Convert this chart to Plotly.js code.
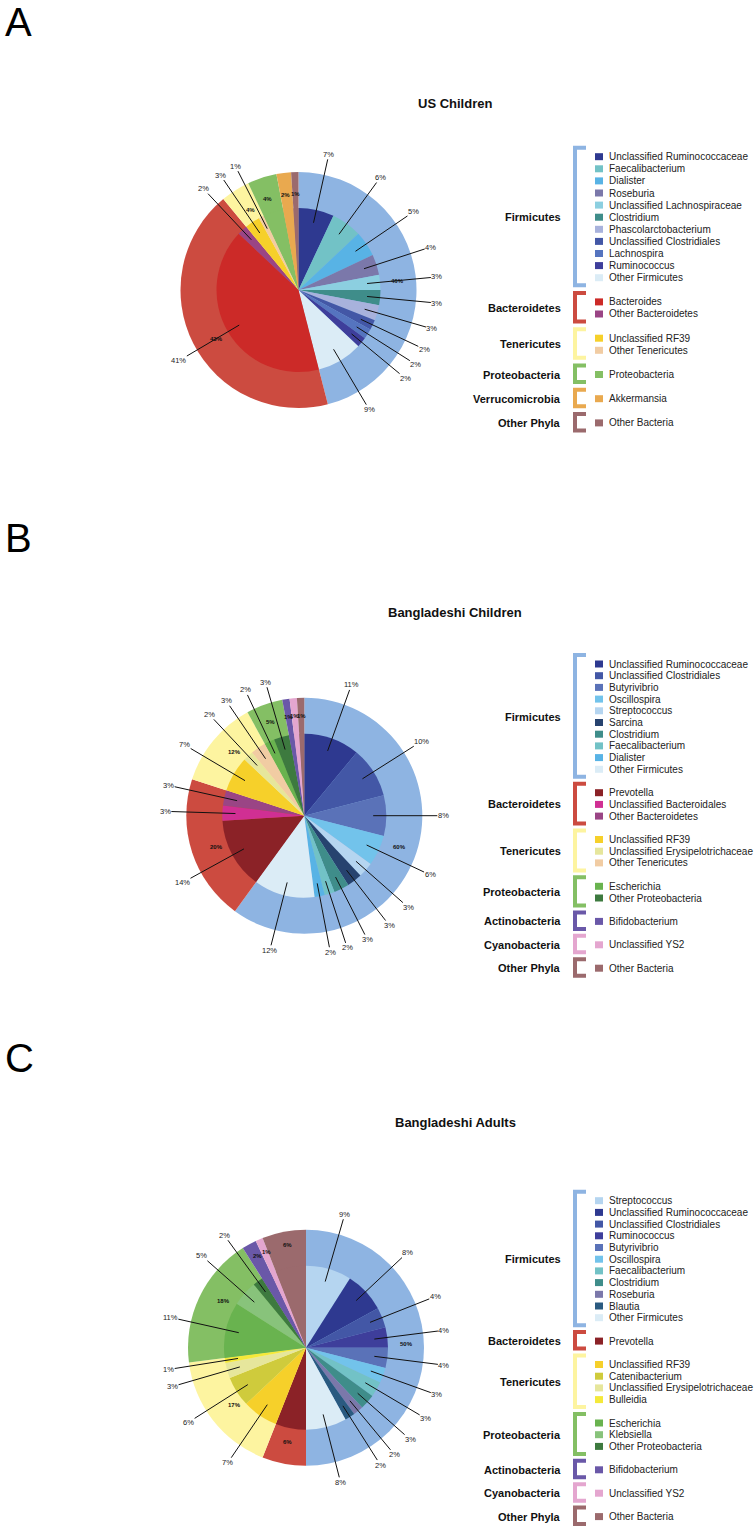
<!DOCTYPE html>
<html><head><meta charset="utf-8">
<script src="https://cdn.plot.ly/plotly-3.0.1.min.js"></script>
<style>html,body{margin:0;padding:0;background:#fff}#chart{width:755px;height:1530px}</style>
</head><body><div id="chart"></div>
<script>
// ---------- DATA ----------
// Panel A: US Children
const usGenera = ['Unclassified Ruminococcaceae','Faecalibacterium','Dialister','Roseburia','Unclassified Lachnospiraceae','Clostridium','Phascolarctobacterium','Unclassified Clostridiales','Lachnospira','Ruminococcus','Other Firmicutes','Bacteroides','Other Bacteroidetes','Unclassified RF39','Other Tenericutes','Proteobacteria','Akkermansia','Other Bacteria'];
const usGenusPct = [7,6,5,4,3,3,3,2,2,2,9,41,2,3,1,4,2,1];
const usGenusPhylum = ['Firmicutes','Firmicutes','Firmicutes','Firmicutes','Firmicutes','Firmicutes','Firmicutes','Firmicutes','Firmicutes','Firmicutes','Firmicutes','Bacteroidetes','Bacteroidetes','Tenericutes','Tenericutes','Proteobacteria','Verrucomicrobia','Other Phyla'];
const usPhyla = ['Firmicutes','Bacteroidetes','Tenericutes','Proteobacteria','Verrucomicrobia','Other Phyla'];
const usPhylumPct = [46,43,4,4,2,1];

// Panel B: Bangladeshi Children
const bcGenera = ['Unclassified Ruminococcaceae','Unclassified Clostridiales','Butyrivibrio','Oscillospira','Streptococcus','Sarcina','Clostridium','Faecalibacterium','Dialister','Other Firmicutes','Prevotella','Unclassified Bacteroidales','Other Bacteroidetes','Unclassified RF39','Unclassified Erysipelotrichaceae','Other Tenericutes','Escherichia','Other Proteobacteria','Bifidobacterium','Unclassified YS2','Other Bacteria'];
const bcGenusPct = [11,10,8,6,3,3,3,2,2,12,14,3,3,7,2,3,2,3,1,1,1];
const bcGenusPhylum = ['Firmicutes','Firmicutes','Firmicutes','Firmicutes','Firmicutes','Firmicutes','Firmicutes','Firmicutes','Firmicutes','Firmicutes','Bacteroidetes','Bacteroidetes','Bacteroidetes','Tenericutes','Tenericutes','Tenericutes','Proteobacteria','Proteobacteria','Actinobacteria','Cyanobacteria','Other Phyla'];
const bcPhyla = ['Firmicutes','Bacteroidetes','Tenericutes','Proteobacteria','Actinobacteria','Cyanobacteria','Other Phyla'];
const bcPhylumPct = [60,20,12,5,1,1,1];

// Panel C: Bangladeshi Adults
const baGenera = ['Streptococcus','Unclassified Ruminococcaceae','Unclassified Clostridiales','Ruminococcus','Butyrivibrio','Oscillospira','Faecalibacterium','Clostridium','Roseburia','Blautia','Other Firmicutes','Prevotella','Unclassified RF39','Catenibacterium','Unclassified Erysipelotrichaceae','Bulleidia','Escherichia','Klebsiella','Other Proteobacteria','Bifidobacterium','Unclassified YS2','Other Bacteria'];
const baGenusPct = [9,8,4,4,4,3,3,3,2,2,8,6,7,6,3,1,11,5,2,2,1,6];
const baGenusPhylum = ['Firmicutes','Firmicutes','Firmicutes','Firmicutes','Firmicutes','Firmicutes','Firmicutes','Firmicutes','Firmicutes','Firmicutes','Firmicutes','Bacteroidetes','Tenericutes','Tenericutes','Tenericutes','Tenericutes','Proteobacteria','Proteobacteria','Proteobacteria','Actinobacteria','Cyanobacteria','Other Phyla'];
const baPhyla = ['Firmicutes','Bacteroidetes','Tenericutes','Proteobacteria','Actinobacteria','Cyanobacteria','Other Phyla'];
const baPhylumPct = [50,6,17,18,2,1,6];

// ---------- STYLES ----------
const phylumColors = {
  'Firmicutes':'#8eb4e2','Bacteroidetes':'#cc4b40','Tenericutes':'#fdf4a0','Proteobacteria':'#84bf64',
  'Verrucomicrobia':'#e9a94f','Actinobacteria':'#6a58a8','Cyanobacteria':'#e4a6cf','Other Phyla':'#9b6a6d'
};
const genusColors = {
  'Unclassified Ruminococcaceae':'#2e3990','Faecalibacterium':'#72c2c6','Dialister':'#58b3e5','Roseburia':'#7b78aa',
  'Unclassified Lachnospiraceae':'#8ccfe0','Clostridium':'#3f8d8a','Phascolarctobacterium':'#a8b2dc',
  'Unclassified Clostridiales':'#4357a6','Lachnospira':'#5574bf','Ruminococcus':'#3e3e9b','Other Firmicutes':'#dbecf6',
  'Butyrivibrio':'#5a72b8','Oscillospira':'#72c3eb','Streptococcus':'#b5d5f0','Sarcina':'#27436f','Blautia':'#2a5a80',
  'Bacteroides':'#cc2a28','Other Bacteroidetes':'#9a4585','Prevotella':'#8b2227','Unclassified Bacteroidales':'#d02f93',
  'Unclassified RF39':'#f6d02a','Other Tenericutes':'#f1cca3','Unclassified Erysipelotrichaceae':'#e6e69c',
  'Catenibacterium':'#cfcb3c','Bulleidia':'#f4e93a',
  'Proteobacteria':'#84bf64','Escherichia':'#69b34f','Klebsiella':'#88c37b','Other Proteobacteria':'#3d7a3f',
  'Akkermansia':'#e9a94f','Bifidobacterium':'#6a58a8','Unclassified YS2':'#e4a6cf','Other Bacteria':'#9b6a6d'
};

const W = 755, H = 1530, R = 118, r = 82;
const FONT = 'Liberation Sans, Arial, Helvetica, sans-serif';

const panels = [
  {letter:'A', title:'US Children', genera:usGenera, gpct:usGenusPct, gphy:usGenusPhylum, phyla:usPhyla, ppct:usPhylumPct,
   cx:298.5, cy:290, titleY:104, letterY:22, legTop:156.7, pitch:12.1},
  {letter:'B', title:'Bangladeshi Children', genera:bcGenera, gpct:bcGenusPct, gphy:bcGenusPhylum, phyla:bcPhyla, ppct:bcPhylumPct,
   cx:304.3, cy:815.7, titleY:612, letterY:538, legTop:664, pitch:11.7},
  {letter:'C', title:'Bangladeshi Adults', genera:baGenera, gpct:baGenusPct, gphy:baGenusPhylum, phyla:baPhyla, ppct:baPhylumPct,
   cx:306, cy:1347.7, titleY:1122, letterY:1058, legTop:1200.7, pitch:11.7}
];

const px = v => v / W;
const py = v => 1 - v / H;

const traces = [], annotations = [], shapes = [];

panels.forEach(p => {
  const dom = rad => ({x:[px(p.cx - rad), px(p.cx + rad)], y:[py(p.cy + rad), py(p.cy - rad)]});
  traces.push({type:'pie', labels:p.phyla, values:p.ppct, sort:false, direction:'clockwise', rotation:0,
    domain:dom(R), marker:{colors:p.phyla.map(n => phylumColors[n]), line:{width:0}},
    textinfo:'none', hoverinfo:'label+value', showlegend:false});
  traces.push({type:'pie', labels:p.genera, values:p.gpct, sort:false, direction:'clockwise', rotation:0,
    domain:dom(r), marker:{colors:p.genera.map(n => genusColors[n]), line:{width:0}},
    textinfo:'none', hoverinfo:'label+value', showlegend:false});

  const count = {};
  p.gphy.forEach(ph => count[ph] = (count[ph] || 0) + 1);

  // inner labels with leader lines
  const gTot = p.gpct.reduce((a, b) => a + b, 0);
  let cum = 0;
  p.gpct.forEach((v, i) => {
    const th = 2 * Math.PI * (cum + v / 2) / gTot;
    cum += v;
    if (count[p.gphy[i]] < 2) return;
    const x0 = p.cx + 0.84 * r * Math.sin(th), y0 = p.cy - 0.84 * r * Math.cos(th);
    const lr = 139;
    const x1 = p.cx + lr * Math.sin(th), y1 = p.cy - lr * Math.cos(th);
    annotations.push({xref:'paper', yref:'paper', x:px(x0), y:py(y0), ax:x1 - x0, ay:y1 - y0,
      text:v + '%', showarrow:true, arrowhead:0, arrowwidth:1, arrowcolor:'#111', standoff:0, startstandoff:0,
      borderpad:0, font:{family:FONT, size:7.5, color:'#222'}});
  });

  // outer (phylum) labels
  const pTot = p.ppct.reduce((a, b) => a + b, 0);
  cum = 0;
  p.ppct.forEach(v => {
    const th = 2 * Math.PI * (cum + v / 2) / pTot;
    cum += v;
    const rr = (r + R) / 2;
    annotations.push({xref:'paper', yref:'paper', x:px(p.cx + rr * Math.sin(th)), y:py(p.cy - rr * Math.cos(th)),
      text:'<b>' + v + '%</b>', showarrow:false, borderpad:0, font:{family:FONT, size:6, color:'#111'}});
  });

  // title and letter
  annotations.push({xref:'paper', yref:'paper', x:px(455), y:py(p.titleY), text:'<b>' + p.title + '</b>',
    showarrow:false, xanchor:'center', yanchor:'middle', font:{family:FONT, size:13, color:'#111'}});
  annotations.push({xref:'paper', yref:'paper', x:px(3), y:py(p.letterY), text:p.letter,
    showarrow:false, xanchor:'left', yanchor:'middle', font:{family:FONT, size:40, color:'#000'}});

  // custom legend with brackets
  let row = 0;
  p.phyla.forEach((ph, k) => {
    if (k > 0) row += 1;
    const members = p.genera.filter((g, i) => p.gphy[i] === ph);
    const yFirst = p.legTop + row * p.pitch;
    members.forEach(g => {
      const y = p.legTop + row * p.pitch;
      shapes.push({type:'rect', xref:'paper', yref:'paper', x0:px(595), x1:px(603), y0:py(y + 3.5), y1:py(y - 3.5),
        fillcolor:genusColors[g], line:{width:0}});
      annotations.push({xref:'paper', yref:'paper', x:px(607), y:py(y), text:g, showarrow:false,
        xanchor:'left', yanchor:'middle', font:{family:FONT, size:10, color:'#222'}});
      row += 1;
    });
    const yLast = p.legTop + (row - 1) * p.pitch;
    const top = yFirst - 9, bot = yLast + 7.5;
    shapes.push({type:'path', xref:'paper', yref:'paper',
      path:'M ' + px(586) + ' ' + py(top) + ' L ' + px(575) + ' ' + py(top) + ' L ' + px(575) + ' ' + py(bot) + ' L ' + px(586) + ' ' + py(bot),
      line:{color:phylumColors[ph], width:4}});
    annotations.push({xref:'paper', yref:'paper', x:px(563), y:py((yFirst + yLast) / 2), text:'<b>' + ph + '</b>',
      showarrow:false, xanchor:'right', yanchor:'middle', font:{family:FONT, size:11, color:'#111'}});
  });
});

const layout = {
  width:W, height:H, margin:{l:0, r:0, t:0, b:0}, paper_bgcolor:'#fff', plot_bgcolor:'#fff',
  showlegend:false, annotations:annotations, shapes:shapes
};
Plotly.newPlot('chart', traces, layout, {staticPlot:true, displayModeBar:false});
</script></body></html>
